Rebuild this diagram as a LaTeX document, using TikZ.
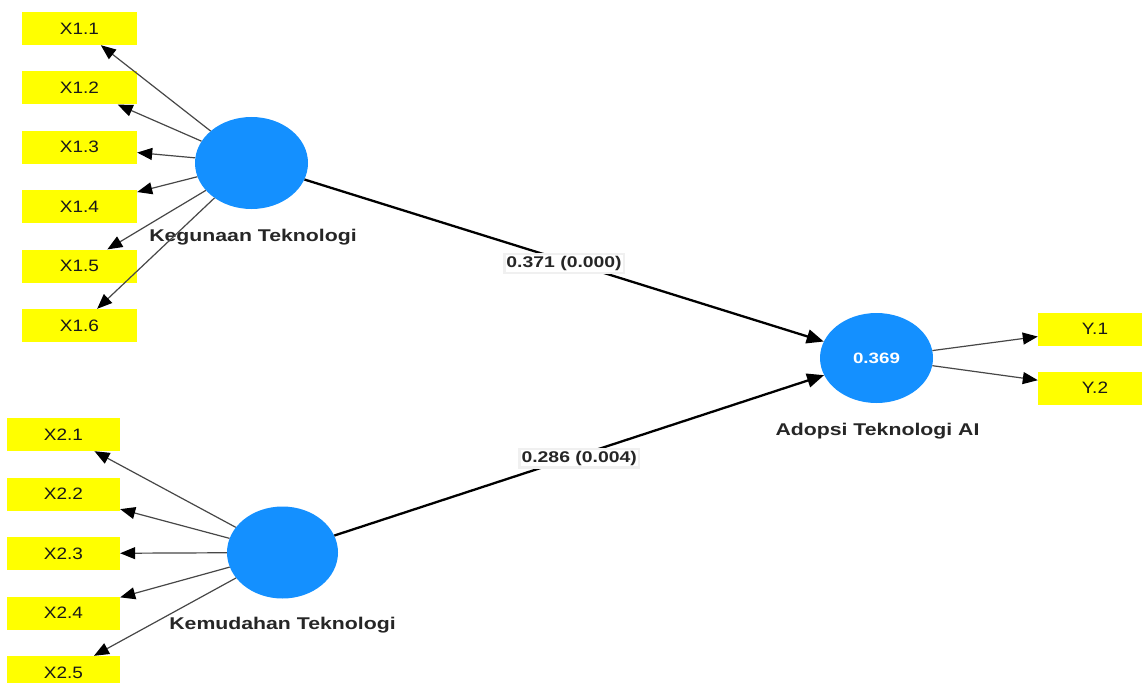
\documentclass[tikz,border=0pt]{standalone}
\usepackage{fontspec}
\setmainfont{Liberation Sans}
\newfontfamily\wfont[FakeStretch=1.25]{Liberation Sans}
\newfontfamily\ifont[FakeStretch=1.15]{Liberation Sans}
\usetikzlibrary{arrows.meta,shapes.geometric}
\definecolor{lvblue}{RGB}{20,144,255}
\definecolor{indyellow}{RGB}{255,255,0}
\begin{document}
\begin{tikzpicture}[x=1pt,y=-1pt,
 ind/.style={fill=indyellow, minimum width=115pt, minimum height=33pt, inner sep=0pt, font=\ifont\fontsize{16.5}{19}\selectfont, text=black!90},
 lv/.style={ellipse, fill=lvblue, minimum width=113pt, minimum height=92pt, inner sep=0pt, text=white, font=\wfont\bfseries\fontsize{15}{18}\selectfont},
 lvlabel/.style={font=\wfont\bfseries\fontsize{17}{20}\selectfont, text=black!85},
 load/.style={draw=black!72, line width=1.2pt, -{Triangle[length=15pt,width=12pt,color=black]}},
 struct/.style={draw=black, line width=2.3pt, -{Triangle[length=17pt,width=14pt]}},
 coef/.style={fill=white, draw=black!6, inner sep=2pt, yshift=-3pt, font=\wfont\bfseries\fontsize{15.5}{18}\selectfont, text=black!85}]
\clip (0,0) rectangle (1142,682);
\fill[white] (0,0) rectangle (1142,682);
% indicators
\node[ind] (x11) at (79.5,28.5) {X1.1};
\node[ind] (x12) at (79.5,87.9) {X1.2};
\node[ind] (x13) at (79.5,147.3) {X1.3};
\node[ind] (x14) at (79.5,206.7) {X1.4};
\node[ind] (x15) at (79.5,266.1) {X1.5};
\node[ind] (x16) at (79.5,325.5) {X1.6};
\node[ind, minimum width=113pt] (x21) at (63.5,434.5) {X2.1};
\node[ind, minimum width=113pt] (x22) at (63.5,494) {X2.2};
\node[ind, minimum width=113pt] (x23) at (63.5,553.5) {X2.3};
\node[ind, minimum width=113pt] (x24) at (63.5,613) {X2.4};
\node[ind, minimum width=113pt] (x25) at (63.5,672.5) {X2.5};
\node[ind, minimum width=114pt] (y1) at (1095,329) {Y.1};
\node[ind, minimum width=114pt] (y2) at (1095,388) {Y.2};
% latent variables
\node[lv] (lv1) at (251.5,163) {};
\node[lv, minimum width=111pt] (lv2) at (282.5,552.5) {};
\node[lv, minimum height=90pt] (lv3) at (876.5,358) {0.369};
\node[lvlabel] (l1) at (253,237) {Kegunaan Teknologi};
\node[lvlabel] (l2) at (282.5,625) {Kemudahan Teknologi};
\node[lvlabel] (l3) at (877.5,431) {Adopsi Teknologi AI};
% loadings
\foreach \i in {x11,x12,x13,x14,x15,x16} \draw[load] (lv1) -- (\i);
\foreach \i in {x21,x22,x23,x24,x25} \draw[load] (lv2) -- (\i);
\draw[load] (lv3) -- (y1);
\draw[load] (lv3) -- (y2);
% structural paths
\draw[struct] (lv1) -- node[coef] (c1) {0.371 (0.000)} (lv3);
\draw[struct] (lv2) -- node[coef] (c2) {0.286 (0.004)} (lv3);
\end{tikzpicture}
\end{document}
